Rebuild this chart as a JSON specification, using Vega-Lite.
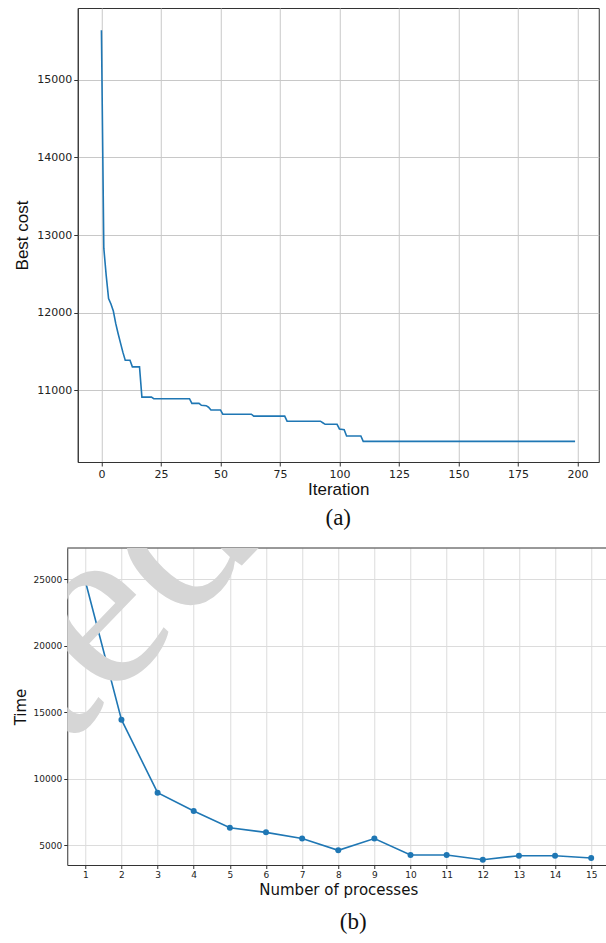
{
  "$schema": "https://vega.github.io/schema/vega-lite/v6.json",
  "background": "white",
  "padding": {"left": 13, "top": 7, "right": 0, "bottom": 0},
  "spacing": 16,
  "center": true,
  "config": {
    "view": {"stroke": "#333", "strokeWidth": 1},
    "axis": {
      "domainColor": "#333", "tickColor": "#333", "labelColor": "#222", "titleColor": "#111",
      "labelFont": "DejaVu Sans", "titleFontWeight": "normal", "gridWidth": 1, "labelOverlap": false
    },
    "title": {"font": "Liberation Serif", "fontWeight": "normal", "color": "#111"}
  },
  "vconcat": [
    {
      "width": 521,
      "height": 454,
      "title": {"text": "(a)", "orient": "bottom", "fontSize": 23, "offset": 10, "anchor": "middle"},
      "data": {"values": [
        {"iteration": 0, "best_cost": 15640},
        {"iteration": 1, "best_cost": 12830},
        {"iteration": 2, "best_cost": 12480},
        {"iteration": 3, "best_cost": 12180},
        {"iteration": 4, "best_cost": 12110},
        {"iteration": 5, "best_cost": 12020},
        {"iteration": 6, "best_cost": 11860},
        {"iteration": 7, "best_cost": 11730},
        {"iteration": 8, "best_cost": 11610},
        {"iteration": 9, "best_cost": 11490},
        {"iteration": 10, "best_cost": 11385},
        {"iteration": 11, "best_cost": 11385},
        {"iteration": 12, "best_cost": 11385},
        {"iteration": 13, "best_cost": 11300},
        {"iteration": 16, "best_cost": 11300},
        {"iteration": 17, "best_cost": 10910},
        {"iteration": 21, "best_cost": 10910},
        {"iteration": 22, "best_cost": 10890},
        {"iteration": 37, "best_cost": 10890},
        {"iteration": 38, "best_cost": 10830},
        {"iteration": 41, "best_cost": 10830},
        {"iteration": 42, "best_cost": 10805},
        {"iteration": 44, "best_cost": 10800},
        {"iteration": 45, "best_cost": 10780},
        {"iteration": 46, "best_cost": 10745},
        {"iteration": 50, "best_cost": 10745},
        {"iteration": 51, "best_cost": 10690},
        {"iteration": 63, "best_cost": 10690},
        {"iteration": 64, "best_cost": 10665},
        {"iteration": 77, "best_cost": 10665},
        {"iteration": 78, "best_cost": 10600},
        {"iteration": 92, "best_cost": 10600},
        {"iteration": 93, "best_cost": 10580},
        {"iteration": 94, "best_cost": 10560},
        {"iteration": 99, "best_cost": 10560},
        {"iteration": 100, "best_cost": 10500},
        {"iteration": 102, "best_cost": 10490},
        {"iteration": 103, "best_cost": 10410},
        {"iteration": 109, "best_cost": 10410},
        {"iteration": 110, "best_cost": 10340},
        {"iteration": 199, "best_cost": 10340}
      ]},
      "mark": {"type": "line", "color": "#1f77b4", "strokeWidth": 1.6, "clip": true},
      "encoding": {
        "x": {
          "field": "iteration", "type": "quantitative",
          "scale": {"domain": [-9.95, 208.95], "nice": false, "zero": false},
          "axis": {
            "values": [0, 25, 50, 75, 100, 125, 150, 175, 200], "tickCount": 20,
            "title": "Iteration", "titleFont": "Liberation Sans", "titleFontSize": 17, "titlePadding": 2,
            "labelFontSize": 11, "tickSize": 4, "labelPadding": 2,
            "gridColor": "#c8c8c8"
          }
        },
        "y": {
          "field": "best_cost", "type": "quantitative",
          "scale": {"domain": [10074, 15926], "nice": false, "zero": false},
          "axis": {
            "values": [11000, 12000, 13000, 14000, 15000], "format": "d", "tickCount": 20,
            "title": "Best cost", "titleFont": "Liberation Sans", "titleFontSize": 17, "titlePadding": 5,
            "labelFontSize": 11, "tickSize": 4, "labelPadding": 2,
            "gridColor": "#c8c8c8"
          }
        }
      }
    },
    {
      "width": 542,
      "height": 317,
      "view": {"stroke": null},
      "title": {"text": "(b)", "orient": "bottom", "fontSize": 23, "offset": 13, "anchor": "middle", "dx": 15},
      "layer": [
        {
          "data": {"values": [
            {"processes": 1, "time": 24850},
            {"processes": 2, "time": 14440},
            {"processes": 3, "time": 8960},
            {"processes": 4, "time": 7580},
            {"processes": 5, "time": 6330},
            {"processes": 6, "time": 5980},
            {"processes": 7, "time": 5520},
            {"processes": 8, "time": 4630},
            {"processes": 9, "time": 5520},
            {"processes": 10, "time": 4280},
            {"processes": 11, "time": 4280},
            {"processes": 12, "time": 3930},
            {"processes": 13, "time": 4230},
            {"processes": 14, "time": 4230},
            {"processes": 15, "time": 4050}
          ]},
          "mark": {"type": "line", "color": "#1f77b4", "strokeWidth": 1.6, "point": {"filled": true, "size": 36, "color": "#1f77b4"}},
          "encoding": {
            "x": {
              "field": "processes", "type": "quantitative",
              "scale": {"domain": [0.5, 15.5], "nice": false, "zero": false},
              "axis": {
                "values": [1, 2, 3, 4, 5, 6, 7, 8, 9, 10, 11, 12, 13, 14, 15], "tickCount": 20,
                "labelOverlap": false,
                "title": "Number of processes", "titleFont": "DejaVu Sans", "titleFontSize": 15, "titlePadding": 3,
                "labelFontSize": 9, "tickSize": 3.5, "labelPadding": 2,
                "gridColor": "#dcdcdc"
              }
            },
            "y": {
              "field": "time", "type": "quantitative",
              "scale": {"domain": [3530, 27330], "nice": false, "zero": false},
              "axis": {
                "values": [5000, 10000, 15000, 20000, 25000], "format": "d", "tickCount": 20,
                "title": "Time", "titleFont": "DejaVu Sans", "titleFontSize": 15, "titlePadding": 5,
                "labelFontSize": 9, "tickSize": 3.5, "labelPadding": 2,
                "gridColor": "#dcdcdc"
              }
            }
          }
        },
        {
          "data": {"values": [{"edge": "top"}]},
          "mark": {"type": "rule", "color": "#333", "strokeWidth": 1},
          "encoding": {"y": {"datum": 27330}}
        },
        {
          "data": {"values": [{"label": "Accepted"}]},
          "mark": {"type": "text", "clip": true, "blend": "multiply", "font": "Liberation Serif", "fontSize": 240, "angle": -46, "align": "right", "baseline": "alphabetic", "color": "#d6d6d6"},
          "encoding": {
            "x": {"datum": 5.98},
            "y": {"datum": 27850},
            "text": {"field": "label"}
          }
        }
      ]
    }
  ]
}
